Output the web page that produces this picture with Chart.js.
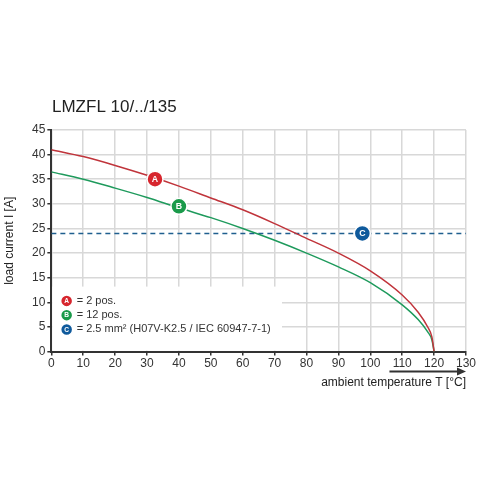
<!DOCTYPE html>
<html><head><meta charset="utf-8">
<script src="https://cdn.jsdelivr.net/npm/chart.js@4/dist/chart.umd.min.js"></script>
<style>body{margin:0;background:#fff}#w{position:absolute;left:0;top:0;width:480px;height:480px}</style>
</head><body><div id="w"><canvas id="c"></canvas></div>
<script>
const temps = [0,10,20,30,40,50,60,70,80,90,100,110,115,118,119.3,120];
const curveA = [41,39.6,37.8,35.8,33.6,31.2,28.8,26,23,20,16.4,11.5,8,5,3,0];
const curveB = [36.5,35,33.2,31.3,29.2,27.2,25,22.6,20,17.2,14,9.5,6.5,4,2.4,0];
const limitC = 24;
const markers = [{l:'A',x:32.5,y:35,c:'#d7262e'},{l:'B',x:40,y:29.5,c:'#1a9a4a'},{l:'C',x:97.5,y:24,c:'#0f5a9c'}];
const legendTexts = ['= 2 pos.','= 12 pos.','= 2.5 mm² (H07V-K2.5 / IEC 60947-7-1)'];
const xTicks = [0,10,20,30,40,50,60,70,80,90,100,110,120,130];
const yTicks = [0,5,10,15,20,25,30,35,40,45];

function circ(ctx,x,y,r,col,l){ctx.beginPath();ctx.arc(x,y,r,0,Math.PI*2);ctx.fillStyle=col;ctx.fill();
 ctx.lineWidth=1.5;ctx.strokeStyle='#fff';ctx.stroke();
 ctx.fillStyle='#fff';ctx.font='bold '+(r*1.1)+'px Arial, Liberation Sans';ctx.textAlign='center';ctx.textBaseline='middle';ctx.fillText(l,x,y+0.5);}

const deco = {id:'deco',
 beforeDatasetsDraw(ch){const {ctx,scales:{x,y}}=ch;ctx.save();ctx.fillStyle='#fff';
  ctx.fillRect(x.getPixelForValue(0)+1,y.getPixelForValue(13.2),x.getPixelForValue(72)-x.getPixelForValue(0),y.getPixelForValue(0)-y.getPixelForValue(13.2)-1);ctx.restore();},
 afterDraw(ch){const {ctx,scales:{x,y}}=ch;ctx.save();
  markers.forEach(m=>circ(ctx,x.getPixelForValue(m.x),y.getPixelForValue(m.y),8,m.c,m.l));
  legendTexts.forEach((t,i)=>{const py=y.getPixelForValue(10.3-i*2.9);const px=x.getPixelForValue(4.8);
   circ(ctx,px,py,6,markers[i].c,markers[i].l);ctx.fillStyle='#333';ctx.font='11px Liberation Sans, Arial';ctx.textAlign='left';ctx.textBaseline='middle';ctx.fillText(t,px+10,py);});
  ctx.fillStyle='#222';ctx.font='17px Liberation Sans, Arial';ctx.textAlign='left';ctx.textBaseline='alphabetic';ctx.fillText('LMZFL 10/../135',52,112);
  const b=y.getPixelForValue(0);
  ctx.font='12px Liberation Sans, Arial';ctx.textAlign='right';ctx.fillText('ambient temperature T [°C]',x.right,b+34);
  const ay=b+20;ctx.strokeStyle='#333';ctx.lineWidth=2;ctx.beginPath();ctx.moveTo(x.getPixelForValue(106),ay);ctx.lineTo(x.right-6,ay);ctx.stroke();
  ctx.fillStyle='#333';ctx.beginPath();ctx.moveTo(x.right,ay);ctx.lineTo(x.right-9,ay-4);ctx.lineTo(x.right-9,ay+4);ctx.closePath();ctx.fill();
  ctx.translate(10,y.getPixelForValue(22.5));ctx.rotate(-Math.PI/2);ctx.textAlign='center';ctx.textBaseline='middle';ctx.fillStyle='#222';ctx.fillText('load current I [A]',0,0);
  ctx.restore();}};

new Chart(document.getElementById('c'),{type:'line',
 data:{datasets:[
  {data:temps.map((t,i)=>({x:t,y:curveA[i]})),borderColor:'#c0343b',borderWidth:1.5,pointRadius:0,cubicInterpolationMode:'monotone'},
  {data:temps.map((t,i)=>({x:t,y:curveB[i]})),borderColor:'#1e9a5c',borderWidth:1.5,pointRadius:0,cubicInterpolationMode:'monotone'},
  {data:[{x:0,y:limitC},{x:130,y:limitC}],borderColor:'#1f5f8f',borderWidth:1.5,borderDash:[5,4],pointRadius:0}]},
 options:{responsive:true,maintainAspectRatio:false,animation:false,
  layout:{padding:{left:30,right:14,top:130,bottom:108}},
  plugins:{legend:{display:false},tooltip:{enabled:false}},
  scales:{
   x:{type:'linear',min:0,max:130,afterBuildTicks:a=>{a.ticks=xTicks.map(v=>({value:v}))},
    grid:{color:'#d8d8d8',lineWidth:1.5,drawTicks:true,tickLength:4,tickColor:'#333'},border:{color:'#333',width:2},
    ticks:{color:'#333',font:{size:12,family:'Liberation Sans'},padding:1,maxRotation:0}},
   y:{min:0,max:45,afterBuildTicks:a=>{a.ticks=yTicks.map(v=>({value:v}))},
    grid:{color:'#d8d8d8',lineWidth:1.5,tickLength:4,tickColor:'#333'},border:{color:'#333',width:2},
    ticks:{color:'#333',font:{size:12,family:'Liberation Sans'},padding:2}}}},
 plugins:[deco]});
</script></body></html>
